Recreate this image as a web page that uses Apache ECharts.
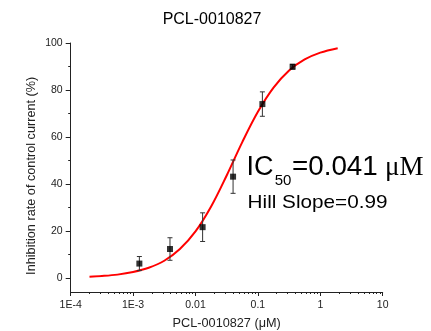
<!DOCTYPE html>
<html>
<head>
<meta charset="utf-8">
<script src="https://cdn.jsdelivr.net/npm/echarts@6/dist/echarts.min.js"></script>
<style>html,body{margin:0;padding:0;background:#fff}#c{width:431px;height:331px}</style>
</head>
<body>
<div id="c"></div>
<script>
// measured points (concentration in µM, inhibition %, error)
var doseX = [0.00126, 0.0039, 0.013, 0.040, 0.118, 0.36];
var meanY = [6.1, 12.3, 21.6, 43.1, 74.0, 89.9];
var errY  = [3.0, 4.8, 6.1, 7.1, 5.2, 1.0];
// fitted curve
var curveX = [0.0002, 0.000316, 0.000562, 0.001, 0.00178, 0.00316, 0.00562, 0.01, 0.0178, 0.0316, 0.0562, 0.1, 0.178, 0.316, 0.562, 1.0, 1.9];
var curveY = [0.5, 0.8, 1.4, 2.5, 4.3, 7.3, 12.3, 19.8, 30.4, 43.6, 57.8, 70.7, 81.0, 88.3, 93.0, 95.9, 97.8];
// ticks
var xTickValues = [0.0001, 0.001, 0.01, 0.1, 1, 10];
var xTickLabels = ['1E-4', '1E-3', '0.01', '0.1', '1', '10'];
var xMinorTicks = [0.0002,0.0003,0.0004,0.0005,0.0006,0.0007,0.0008,0.0009,
                   0.002,0.003,0.004,0.005,0.006,0.007,0.008,0.009,
                   0.02,0.03,0.04,0.05,0.06,0.07,0.08,0.09,
                   0.2,0.3,0.4,0.5,0.6,0.7,0.8,0.9,
                   2,3,4,5,6,7,8,9];
var yTickValues = [0, 20, 40, 60, 80, 100];
var yMinorTicks = [10, 30, 50, 70, 90];

var FONT = 'Liberation Sans, Arial, sans-serif';
var chart = echarts.init(document.getElementById('c'), null, {renderer: 'canvas'});

var pts = doseX.map(function (x, i) { return [x, meanY[i]]; });
var errs = doseX.map(function (x, i) { return [x, meanY[i] - errY[i], meanY[i] + errY[i]]; });
var curve = curveX.map(function (x, i) { return [x, curveY[i]]; });

var axisCol = '#222';
var grid = {left: 70.7, right: 48.3, top: 43, bottom: 39, containLabel: false, outerBoundsMode: 'none'};

chart.setOption({
  animation: false,
  grid: grid,
  xAxis: [{
    type: 'log', logBase: 10, min: 0.0001, max: 10, position: 'bottom',
    axisLine: {onZero: false, lineStyle: {color: axisCol, width: 1}},
    axisTick: {customValues: xTickValues, length: 4, lineStyle: {color: axisCol}},
    axisLabel: {customValues: xTickValues, margin: 8, fontSize: 10.5, fontFamily: FONT, color: '#222',
      formatter: function (v) { var k = Math.round(Math.log10(v)) + 4; return xTickLabels[k]; }},
    splitLine: {show: false},
    name: 'PCL-0010827 (\u03bcM)', nameLocation: 'middle', nameGap: 25,
    nameTextStyle: {fontSize: 12.7, fontFamily: FONT, color: '#222'}
  }, {
    type: 'log', logBase: 10, min: 0.0001, max: 10, position: 'bottom',
    axisLine: {show: false, onZero: false},
    axisTick: {customValues: xMinorTicks, length: 2, lineStyle: {color: axisCol}},
    axisLabel: {show: false}, splitLine: {show: false}
  }],
  yAxis: [{
    type: 'value', min: -6, max: 100, position: 'left',
    axisLine: {show: true, onZero: false, lineStyle: {color: axisCol, width: 1}},
    axisTick: {show: true, customValues: yTickValues, length: 5, lineStyle: {color: axisCol}},
    axisLabel: {customValues: yTickValues, margin: 8, fontSize: 10.5, fontFamily: FONT, color: '#222'},
    splitLine: {show: false}
  }, {
    type: 'value', min: -6, max: 100, position: 'left',
    axisLine: {show: false, onZero: false},
    axisTick: {show: true, customValues: yMinorTicks, length: 2.5, lineStyle: {color: axisCol}},
    axisLabel: {show: false}, splitLine: {show: false}
  }],
  series: [{
    type: 'line', data: curve, smooth: 0.35, showSymbol: false,
    lineStyle: {color: '#ff0000', width: 2}, z: 2
  }, {
    type: 'custom', data: errs, z: 3,
    renderItem: function (params, api) {
      var x = api.value(0);
      var lo = api.coord([x, api.value(1)]);
      var hi = api.coord([x, api.value(2)]);
      var w = 2.5;
      var st = {stroke: '#333', lineWidth: 1};
      return {type: 'group', children: [
        {type: 'line', shape: {x1: lo[0], y1: lo[1], x2: hi[0], y2: hi[1]}, style: st},
        {type: 'line', shape: {x1: lo[0] - w, y1: lo[1], x2: lo[0] + w, y2: lo[1]}, style: st},
        {type: 'line', shape: {x1: hi[0] - w, y1: hi[1], x2: hi[0] + w, y2: hi[1]}, style: st}
      ]};
    }
  }, {
    type: 'scatter', data: pts, symbol: 'rect', symbolSize: 6, z: 4,
    itemStyle: {color: '#000'}
  }],
  graphic: [
    {type: 'text', x: 212, y: 19.7, style: {text: 'PCL-0010827', font: '16px ' + FONT, fill: '#000', align: 'center', verticalAlign: 'middle'}},
    {type: 'text', x: 31.7, y: 175.8, rotation: Math.PI / 2,
      style: {text: 'Inhibition rate of control current (%)', font: '12.7px ' + FONT, fill: '#222', align: 'center', verticalAlign: 'middle'}},
    {type: 'text', x: 246.5, y: 167.5, style: {text: 'IC', font: '27px ' + FONT, fill: '#000', align: 'left', verticalAlign: 'middle'}},
    {type: 'text', x: 274.7, y: 180.7, style: {text: '50', font: '15px ' + FONT, fill: '#000', align: 'left', verticalAlign: 'middle'}},
    {type: 'text', x: 292, y: 167.5, style: {text: '=0.041', font: '27.8px ' + FONT, fill: '#000', align: 'left', verticalAlign: 'middle'}},
    {type: 'text', x: 385, y: 167.5, style: {text: '\u03bcM', font: '27px Liberation Serif, Times New Roman, serif', fill: '#000', align: 'left', verticalAlign: 'middle'}},
    {type: 'text', x: 247.6, y: 203, scaleX: 1.165, style: {text: 'Hill Slope=0.99', font: '17.8px ' + FONT, fill: '#000', align: 'left', verticalAlign: 'middle'}}
  ]
});
</script>
</body>
</html>
